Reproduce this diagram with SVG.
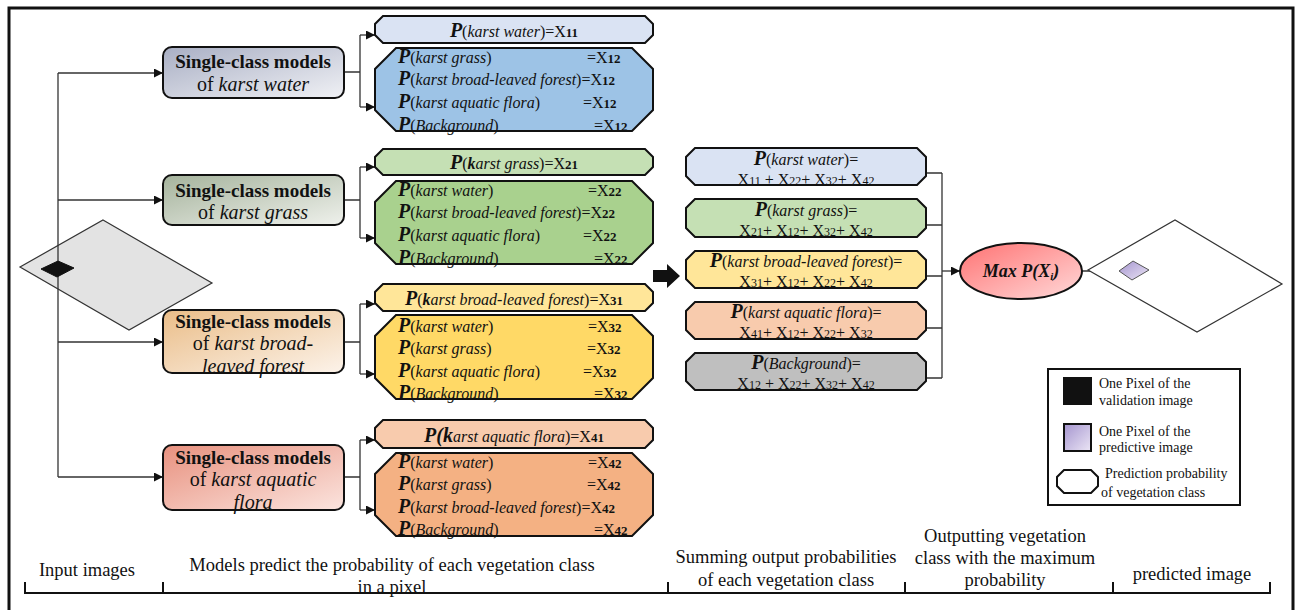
<svg xmlns="http://www.w3.org/2000/svg" width="1298" height="610" viewBox="0 0 1298 610">
<style>
text{font-family:"Liberation Serif","Times New Roman",serif;fill:#111}
.mb{font-size:19px;font-weight:bold;text-anchor:middle}
.ml{font-size:20px;text-anchor:middle}
.it{font-style:italic}
.o{stroke:#111;stroke-width:2}
.p{font-size:16px}
.P{font-size:20px;font-weight:bold;font-style:italic}
.sb{font-size:13px;font-weight:bold}
.sr{font-size:12px}
.c{text-anchor:middle}
.ln{fill:none;stroke:#333;stroke-width:1.3}
.lg{font-size:14px}
.bt{font-size:18.5px;text-anchor:middle}
</style>
<defs>
<marker id="ar" viewBox="0 0 10 10" refX="10" refY="5" markerWidth="9" markerHeight="9" markerUnits="userSpaceOnUse" orient="auto"><path d="M0,0L10,5L0,10Z" fill="#111"/></marker>
<linearGradient id="g1" x1="0" y1="0" x2="1" y2="1"><stop offset="0" stop-color="#a9afc4"/><stop offset="1" stop-color="#f0f1f5"/></linearGradient>
<linearGradient id="g2" x1="0" y1="0" x2="1" y2="1"><stop offset="0" stop-color="#a5b39c"/><stop offset="1" stop-color="#eff1ec"/></linearGradient>
<linearGradient id="g3" x1="0" y1="0" x2="1" y2="1"><stop offset="0" stop-color="#eabd88"/><stop offset="1" stop-color="#fcf3ea"/></linearGradient>
<linearGradient id="g4" x1="0" y1="0" x2="1" y2="1"><stop offset="0" stop-color="#e8917f"/><stop offset="1" stop-color="#fbe4de"/></linearGradient>
<linearGradient id="ge" x1="0" y1="0" x2="1" y2="1"><stop offset="0" stop-color="#ff7272"/><stop offset="1" stop-color="#ffdada"/></linearGradient>
<linearGradient id="gp" x1="0" y1="0" x2="1" y2="1"><stop offset="0" stop-color="#a595cf"/><stop offset="1" stop-color="#ebe5f5"/></linearGradient>
</defs>

<rect width="1298" height="610" fill="#fff"/>
<path d="M9,610V8H1293V610" fill="none" stroke="#111" stroke-width="3"/>

<g id="input-image">
<path d="M103,220L212,283L129,330L20,267Z" fill="#e3e3e3" stroke="#333" stroke-width="1.2"/>
</g>

<g id="connectors">
<path class="ln" d="M58,73V477"/>
<path class="ln" d="M58,73H163" marker-end="url(#ar)"/>
<path class="ln" d="M58,200H163" marker-end="url(#ar)"/>
<path class="ln" d="M58,342H163" marker-end="url(#ar)"/>
<path class="ln" d="M58,477H163" marker-end="url(#ar)"/>
<path class="ln" d="M344,72H360M360,35V107"/>
<path class="ln" d="M360,35H375" marker-end="url(#ar)"/>
<path class="ln" d="M360,107H375" marker-end="url(#ar)"/>
<path class="ln" d="M344,200H360M360,167V238"/>
<path class="ln" d="M360,167H375" marker-end="url(#ar)"/>
<path class="ln" d="M360,238H375" marker-end="url(#ar)"/>
<path class="ln" d="M344,342H360M360,304V374"/>
<path class="ln" d="M360,304H375" marker-end="url(#ar)"/>
<path class="ln" d="M360,374H375" marker-end="url(#ar)"/>
<path class="ln" d="M344,477H360M360,440V510"/>
<path class="ln" d="M360,440H375" marker-end="url(#ar)"/>
<path class="ln" d="M360,510H375" marker-end="url(#ar)"/>
<path class="ln" d="M926,173H942M926,225H942M926,276H942M926,328H942M926,378H942M942,173V378"/>
<path class="ln" d="M942,271H960" marker-end="url(#ar)"/>
<path class="ln" d="M1082,271H1119" marker-end="url(#ar)"/>
<path d="M653,270H667V264L680,276L667,288V282H653Z" fill="#111"/>
</g>

<g id="input-pixel">
<path d="M41,269L58,261L74,268L57,277Z" fill="#111" stroke="#111"/>
</g>

<g id="model-water">
<rect x="163" y="47" width="181" height="51" rx="9" fill="url(#g1)" class="o"/>
<text x="253" y="68" class="mb">Single-class models</text>
<text x="253" y="91" class="ml">of <tspan class="it">karst water</tspan></text>
</g>
<g id="model-grass">
<rect x="163" y="175" width="181" height="50" rx="9" fill="url(#g2)" class="o"/>
<text x="253" y="197" class="mb">Single-class models</text>
<text x="253" y="219" class="ml">of <tspan class="it">karst grass</tspan></text>
</g>
<g id="model-forest">
<rect x="163" y="310" width="181" height="63" rx="9" fill="url(#g3)" class="o"/>
<text x="253" y="328" class="mb">Single-class models</text>
<text x="253" y="350" class="ml">of <tspan class="it">karst broad-</tspan></text>
<text x="253" y="373" class="ml it">leaved forest</text>
</g>
<g id="model-flora">
<rect x="163" y="445" width="181" height="65" rx="9" fill="url(#g4)" class="o"/>
<text x="253" y="464" class="mb">Single-class models</text>
<text x="253" y="486" class="ml">of <tspan class="it">karst aquatic</tspan></text>
<text x="253" y="509" class="ml it">flora</text>
</g>

<g id="out-water">
<path d="M383,16H645L653,24V35L645,43H383L375,35V24Z" fill="#dae3f3" class="o"/>
<text x="514" y="37" class="p c"><tspan class="P">P</tspan>(<tspan class="it">karst water</tspan>)=X<tspan class="sb">11</tspan></text>
<path d="M396,48H632L653,69V110L632,131H396L375,110V69Z" fill="#9dc3e6" class="o"/>
<text x="398" y="63" class="p"><tspan class="P">P</tspan>(<tspan class="it">karst grass</tspan>)</text><text x="587" y="63" class="p">=X<tspan class="sb">12</tspan></text>
<text x="398" y="85" class="p"><tspan class="P">P</tspan>(<tspan class="it">karst broad-leaved forest</tspan>)=X<tspan class="sb">12</tspan></text>
<text x="398" y="108" class="p"><tspan class="P">P</tspan>(<tspan class="it">karst aquatic flora</tspan>)</text><text x="583" y="108" class="p">=X<tspan class="sb">12</tspan></text>
<text x="398" y="131" class="p"><tspan class="P">P</tspan>(<tspan class="it">Background</tspan>)</text><text x="594" y="131" class="p">=X<tspan class="sb">12</tspan></text>
</g>

<g id="out-grass">
<path d="M383,149H645L653,157V167L645,175H383L375,167V157Z" fill="#c5e0b4" class="o"/>
<text x="514" y="169" class="p c"><tspan class="P">P</tspan>(<tspan class="it" font-weight="bold">k</tspan><tspan class="it">arst grass</tspan>)=X<tspan class="sb">21</tspan></text>
<path d="M396,181H632L653,202V243L632,264H396L375,243V202Z" fill="#a9d18e" class="o"/>
<text x="398" y="196" class="p"><tspan class="P">P</tspan>(<tspan class="it">karst water</tspan>)</text><text x="588" y="196" class="p">=X<tspan class="sb">22</tspan></text>
<text x="398" y="218" class="p"><tspan class="P">P</tspan>(<tspan class="it">karst broad-leaved forest</tspan>)=X<tspan class="sb">22</tspan></text>
<text x="398" y="241" class="p"><tspan class="P">P</tspan>(<tspan class="it">karst aquatic flora</tspan>)</text><text x="583" y="241" class="p">=X<tspan class="sb">22</tspan></text>
<text x="398" y="264" class="p"><tspan class="P">P</tspan>(<tspan class="it">Background</tspan>)</text><text x="594" y="264" class="p">=X<tspan class="sb">22</tspan></text>
</g>

<g id="out-forest">
<path d="M383,284H645L653,292V303L645,311H383L375,303V292Z" fill="#ffe699" class="o"/>
<text x="514" y="305" class="p c"><tspan class="P">P</tspan>(<tspan class="it" font-weight="bold">k</tspan><tspan class="it">arst broad-leaved forest</tspan>)=X<tspan class="sb">31</tspan></text>
<path d="M396,315H632L653,336V378L632,399H396L375,378V336Z" fill="#ffd966" class="o"/>
<text x="398" y="332" class="p"><tspan class="P">P</tspan>(<tspan class="it">karst water</tspan>)</text><text x="588" y="332" class="p">=X<tspan class="sb">32</tspan></text>
<text x="398" y="354" class="p"><tspan class="P">P</tspan>(<tspan class="it">karst grass</tspan>)</text><text x="587" y="354" class="p">=X<tspan class="sb">32</tspan></text>
<text x="398" y="377" class="p"><tspan class="P">P</tspan>(<tspan class="it">karst aquatic flora</tspan>)</text><text x="583" y="377" class="p">=X<tspan class="sb">32</tspan></text>
<text x="398" y="399" class="p"><tspan class="P">P</tspan>(<tspan class="it">Background</tspan>)</text><text x="594" y="399" class="p">=X<tspan class="sb">32</tspan></text>
</g>

<g id="out-flora">
<path d="M383,420H645L653,428V440L645,448H383L375,440V428Z" fill="#f8cbad" class="o"/>
<text x="514" y="442" class="p c"><tspan class="P">P(k</tspan><tspan class="it">arst aquatic flora</tspan>)=X<tspan class="sb">41</tspan></text>
<path d="M396,453H632L653,474V515L632,536H396L375,515V474Z" fill="#f4b183" class="o"/>
<text x="398" y="468" class="p"><tspan class="P">P</tspan>(<tspan class="it">karst water</tspan>)</text><text x="588" y="468" class="p">=X<tspan class="sb">42</tspan></text>
<text x="398" y="490" class="p"><tspan class="P">P</tspan>(<tspan class="it">karst grass</tspan>)</text><text x="587" y="490" class="p">=X<tspan class="sb">42</tspan></text>
<text x="398" y="513" class="p"><tspan class="P">P</tspan>(<tspan class="it">karst broad-leaved forest</tspan>)=X<tspan class="sb">42</tspan></text>
<text x="398" y="535" class="p"><tspan class="P">P</tspan>(<tspan class="it">Background</tspan>)</text><text x="594" y="535" class="p">=X<tspan class="sb">42</tspan></text>
</g>

<g id="sum-water">
<path d="M695,148H917L926,157V176L917,185H695L686,176V157Z" fill="#dae3f3" class="o"/>
<text x="806" y="165" class="p c"><tspan class="P">P</tspan>(<tspan class="it">karst water</tspan>)=</text>
<text x="806" y="185" class="p c">X<tspan class="sr">11</tspan> + X<tspan class="sr">22</tspan>+ X<tspan class="sr">32</tspan>+ X<tspan class="sr">42</tspan></text>
</g>
<g id="sum-grass">
<path d="M695,199H917L926,208V228L917,237H695L686,228V208Z" fill="#c5e0b4" class="o"/>
<text x="806" y="216" class="p c"><tspan class="P">P</tspan>(<tspan class="it">karst grass</tspan>)=</text>
<text x="806" y="236" class="p c">X<tspan class="sr">21</tspan>+ X<tspan class="sr">12</tspan>+ X<tspan class="sr">32</tspan>+ X<tspan class="sr">42</tspan></text>
</g>
<g id="sum-forest">
<path d="M695,251H917L926,260V279L917,288H695L686,279V260Z" fill="#ffe699" class="o"/>
<text x="806" y="267" class="p c"><tspan class="P">P</tspan>(<tspan class="it">karst broad-leaved forest</tspan>)=</text>
<text x="806" y="287" class="p c">X<tspan class="sr">31</tspan>+ X<tspan class="sr">12</tspan>+ X<tspan class="sr">22</tspan>+ X<tspan class="sr">42</tspan></text>
</g>
<g id="sum-flora">
<path d="M695,302H917L926,311V330L917,339H695L686,330V311Z" fill="#f8cbad" class="o"/>
<text x="806" y="318" class="p c"><tspan class="P">P</tspan>(<tspan class="it">karst aquatic flora</tspan>)=</text>
<text x="806" y="338" class="p c">X<tspan class="sr">41</tspan>+ X<tspan class="sr">12</tspan>+ X<tspan class="sr">22</tspan>+ X<tspan class="sr">32</tspan></text>
</g>
<g id="sum-background">
<path d="M695,353H917L926,362V381L917,390H695L686,381V362Z" fill="#bfbfbf" class="o"/>
<text x="806" y="369" class="p c"><tspan class="P">P</tspan>(<tspan class="it">Background</tspan>)=</text>
<text x="806" y="389" class="p c">X<tspan class="sr">12</tspan> + X<tspan class="sr">22</tspan>+ X<tspan class="sr">32</tspan>+ X<tspan class="sr">42</tspan></text>
</g>

<g id="max">
<ellipse cx="1021" cy="271" rx="61" ry="28" fill="url(#ge)" class="o"/>
<text x="1021" y="277" class="c" font-size="18" font-weight="bold" font-style="italic">Max P(X<tspan font-size="11" dy="3">i</tspan><tspan dy="-3">)</tspan></text>
</g>

<g id="predicted-image">
<path d="M1088,270L1175,220L1282,284L1197,332Z" fill="#fff" stroke="#333" stroke-width="1.2"/>
<path d="M1119,271L1133,261L1149,270L1132,280Z" fill="url(#gp)" stroke="#555" stroke-width="1"/>
</g>

<g id="legend">
<rect x="1048" y="369" width="192" height="136" fill="#fff" stroke="#111" stroke-width="2"/>
<rect x="1063" y="377" width="29" height="28" fill="#111"/>
<text x="1099" y="388" class="lg">One Pixel of the</text>
<text x="1099" y="405" class="lg">validation  image</text>
<rect x="1064" y="424" width="27" height="27" fill="url(#gp)" stroke="#111" stroke-width="2"/>
<text x="1099" y="436" class="lg">One Pixel of the</text>
<text x="1099" y="452" class="lg">predictive image</text>
<path d="M1064,470H1091L1098,477V486L1091,493H1064L1057,486V477Z" fill="#fff" stroke="#111" stroke-width="2"/>
<text x="1105" y="478" class="lg">Prediction probability</text>
<text x="1101" y="497" class="lg">of vegetation class</text>
</g>

<g id="stages">
<path d="M25,582V593H1270V582M163,582V593M668,582V593M905,582V593M1113,582V593" fill="none" stroke="#111" stroke-width="2"/>
<text x="87" y="576" class="bt">Input images</text>
<text x="392" y="571" class="bt">Models predict the probability of each vegetation class</text>
<text x="392" y="593" class="bt">in a pixel</text>
<text x="786" y="563" class="bt">Summing output probabilities</text>
<text x="786" y="586" class="bt">of each vegetation class</text>
<text x="1005" y="542" class="bt">Outputting vegetation</text>
<text x="1005" y="564" class="bt">class with the maximum</text>
<text x="1005" y="586" class="bt">probability</text>
<text x="1192" y="580" class="bt">predicted image</text>
</g>
</svg>
